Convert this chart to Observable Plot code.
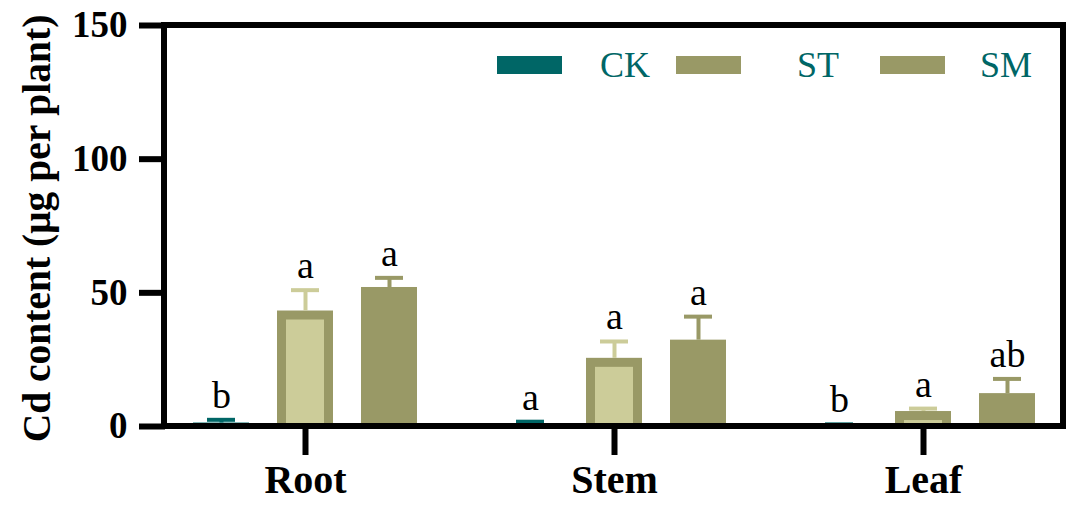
<!DOCTYPE html>
<html><head><meta charset="utf-8">
<script src="https://cdn.jsdelivr.net/npm/d3@7"></script>
<script src="https://cdn.jsdelivr.net/npm/@observablehq/plot@0.6"></script>
<style>
body{margin:0;background:#fff;}
#wrap{position:relative;width:1078px;height:507px;overflow:hidden;}
.sw{position:absolute;height:18px;width:65px;}
.lt{position:absolute;font-family:"Liberation Serif";font-size:36px;color:#006666;line-height:36px;}
</style></head><body><div id="wrap"></div>
<script>
const groups = ["Root", "Stem", "Leaf"];
const series = ["CK", "ST", "SM"];
const ckMean = [1.3, 1.0, 0.4];
const ckSd = [1.2, 0.8, 0.4];
const stMean = [43.2, 25.5, 5.6];
const stSd = [7.8, 6.3, 1.1];
const smMean = [52.0, 32.3, 12.3];
const smSd = [3.6, 8.8, 5.5];
const ckLetters = ["b", "a", "b"];
const stLetters = ["a", "a", "a"];
const smLetters = ["a", "a", "ab"];
const yTicks = [0, 50, 100, 150];
const yTitle = "Cd content (μg per plant)";

const fillColor = {CK: "#006666", ST: "#999966", SM: "#999966"};
const errColor = {CK: "#006666", ST: "#cccc99", SM: "#999966"};
const innerFill = "#cccc99";

const means = {CK: ckMean, ST: stMean, SM: smMean};
const sds = {CK: ckSd, ST: stSd, SM: smSd};
const letters = {CK: ckLetters, ST: stLetters, SM: smLetters};
const rows = [];
groups.forEach((g, i) => series.forEach(s => rows.push({
  group: g, series: s, mean: means[s][i], sd: sds[s][i], top: means[s][i] + sds[s][i], letter: letters[s][i]
})));

const plot = Plot.plot({
  width: 1078, height: 507,
  marginLeft: 164, marginRight: 15, marginTop: 25, marginBottom: 81,
  style: {fontFamily: "Liberation Serif", fontWeight: "bold", background: "#fff", color: "#000"},
  fx: {domain: groups, paddingInner: 0.095, paddingOuter: 0},
  x: {domain: series, paddingInner: 0.337, paddingOuter: 0.325, axis: null},
  y: {domain: [0, 150]},
  marks: [
    Plot.barY(rows, {fx: "group", x: "series", y: "mean", fill: d => fillColor[d.series]}),
    Plot.barY(rows.filter(d => d.series === "ST"), {fx: "group", x: "series", y: "mean", fill: innerFill, insetLeft: 9, insetRight: 9, insetTop: 9}),
    Plot.ruleX(rows, {fx: "group", x: "series", y1: "mean", y2: "top", stroke: d => errColor[d.series], strokeWidth: 4}),
    Plot.tickY(rows, {fx: "group", x: "series", y: "top", stroke: d => errColor[d.series], strokeWidth: 4, insetLeft: 14, insetRight: 14}),
    Plot.text(rows, {fx: "group", x: "series", y: "top", text: "letter", lineAnchor: "bottom", dy: -12, fontSize: 38, fontWeight: "normal", fill: "#000"}),
    Plot.axisY({ticks: yTicks, tickSize: 26, tickPadding: 12, strokeWidth: 6, fontSize: 37, fontWeight: "bold", label: null}),
    Plot.axisFx({anchor: "bottom", tickSize: 29, tickPadding: 9, strokeWidth: 6, fontSize: 40, fontWeight: "bold", label: null})
  ]
});

const ys = plot.scale("y").range;
const fr = plot.scale("fx").range;
const svg = d3.select(plot);
svg.append("rect")
  .attr("x", fr[0]).attr("y", Math.min(...ys))
  .attr("width", fr[1] - fr[0]).attr("height", Math.abs(ys[0] - ys[1]))
  .attr("fill", "none").attr("stroke", "#000").attr("stroke-width", 6);
svg.append("text")
  .attr("transform", `translate(50,${(ys[0] + ys[1]) / 2 + 3}) rotate(-90)`)
  .attr("text-anchor", "middle")
  .attr("font-size", 39.5).attr("font-weight", "bold").attr("fill", "#000")
  .text(yTitle);

const wrap = document.getElementById("wrap");
wrap.appendChild(plot);

const legendPos = {CK: [497, 600], ST: [676, 797], SM: [880, 980]};
series.forEach(s => {
  const sw = document.createElement("div");
  sw.className = "sw";
  sw.style.left = legendPos[s][0] + "px";
  sw.style.top = "56px";
  sw.style.background = fillColor[s];
  wrap.appendChild(sw);
  const t = document.createElement("div");
  t.className = "lt";
  t.style.left = legendPos[s][1] + "px";
  t.style.top = "47px";
  t.textContent = s;
  wrap.appendChild(t);
});
</script></body></html>
